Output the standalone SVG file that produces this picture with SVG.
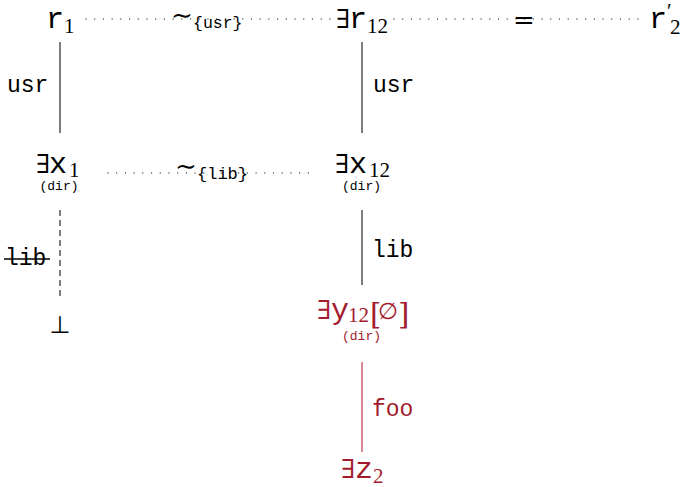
<svg xmlns="http://www.w3.org/2000/svg" width="680" height="487" viewBox="0 0 680 487">
<style>
.m{font-family:"Liberation Mono","DejaVu Sans Mono",monospace;fill:#000}
.n{font-size:30px}
.s{font-family:"Liberation Serif","DejaVu Serif",serif;font-size:21px}
.e{font-family:"DejaVu Serif",serif;font-size:26px}
.lab{font-size:23px}
.dir{font-size:13px}
.red{fill:#a31a2c}
.dot{stroke:#444;stroke-width:1.3;stroke-linecap:round;stroke-dasharray:0.01 8.7;fill:none}
.ln{stroke:#111;stroke-width:1.1;fill:none}
.rl{stroke:#b8283c;stroke-width:1.1;fill:none}
</style>
<g id="edges">
<line class="dot" x1="86" y1="19" x2="333" y2="19"/>
<line class="dot" x1="394" y1="19" x2="640" y2="19"/>
<line class="dot" x1="108" y1="173" x2="312" y2="173"/>
<line class="ln" x1="60" y1="42" x2="60" y2="133"/>
<line class="ln" x1="362" y1="42" x2="362" y2="133"/>
<line class="ln" x1="60" y1="210" x2="60" y2="300" stroke-dasharray="6 4"/>
<line class="ln" x1="362" y1="210" x2="362" y2="285"/>
<line class="rl" x1="362" y1="362" x2="362" y2="452"/>
<g id="label-usr-top">
<text class="e" x="182" y="24" text-anchor="middle" font-size="30">∼</text>
<text class="m" x="193" y="28" font-size="16.5">{usr}</text>
</g>
<text class="e" x="524" y="29" text-anchor="middle" font-size="26">=</text>
<g id="label-lib-mid">
<text class="e" x="186" y="175" text-anchor="middle" font-size="30">∼</text>
<text class="m" x="197" y="179" font-size="17">{lib}</text>
</g>
<text class="m lab" x="7" y="92">usr</text>
<text class="m lab" x="373" y="92">usr</text>
<text class="m lab" x="5" y="265">lib</text>
<line x1="4" y1="259" x2="50" y2="259" stroke="#000" stroke-width="1.3"/>
<text class="m lab" x="372" y="257">lib</text>
<text class="m lab red" x="372" y="416">foo</text>
</g>
<g id="r1">
<text class="m n" x="46" y="28">r</text>
<text class="s" x="64" y="33">1</text>
</g>
<g id="r12">
<text class="e" x="343" y="28" text-anchor="middle">∃</text>
<text class="m n" x="349" y="28">r</text>
<text class="s" x="367" y="33">12</text>
</g>
<g id="r2p">
<text class="m n" x="649" y="28">r</text>
<text class="s" x="667" y="18" font-size="15">′</text>
<text class="s" x="670" y="34">2</text>
</g>
<g id="x1">
<text class="e" x="43" y="173" text-anchor="middle">∃</text>
<text class="m n" x="49" y="173">x</text>
<text class="s" x="69" y="177">1</text>
<text class="m dir" x="59" y="190" text-anchor="middle">(dir)</text>
</g>
<g id="x12">
<text class="e" x="342" y="173" text-anchor="middle">∃</text>
<text class="m n" x="349" y="173">x</text>
<text class="s" x="369" y="177">12</text>
<text class="m dir" x="361.5" y="190" text-anchor="middle">(dir)</text>
</g>
<g id="bot">
<text x="60" y="333" text-anchor="middle" font-size="24" style="font-family:'DejaVu Sans',sans-serif" fill="#000">⊥</text>
</g>
<g id="y12">
<text class="e red" x="324" y="319" text-anchor="middle">∃</text>
<text class="m n red" x="331" y="319">y</text>
<text class="s red" x="348" y="322">12</text>
<text class="red" x="370" y="324" font-size="29" style="font-family:'DejaVu Serif',serif">[</text>
<text class="red" x="388" y="319" text-anchor="middle" font-size="23" style="font-family:'DejaVu Sans',sans-serif">∅</text>
<text class="red" x="398" y="324" font-size="29" style="font-family:'DejaVu Serif',serif">]</text>
<text class="m dir red" x="361.5" y="340" text-anchor="middle">(dir)</text>
</g>
<g id="z2">
<text class="e red" x="348" y="478" text-anchor="middle">∃</text>
<text class="m n red" x="355" y="478">z</text>
<text class="s red" x="373" y="483">2</text>
</g>
</svg>
